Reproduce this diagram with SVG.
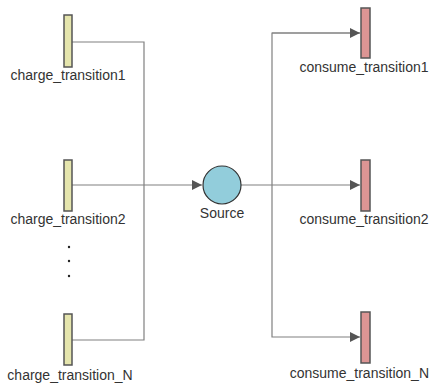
<svg xmlns="http://www.w3.org/2000/svg" width="433" height="383" viewBox="0 0 433 383">
<defs>
<style>
.ch{fill:#e5e5ad;stroke:#555;stroke-width:1.5}
.co{fill:#dc9594;stroke:#555;stroke-width:1.5}
.src{fill:#92cddb;stroke:#333;stroke-width:1.2}
.ln{fill:none;stroke:#808080;stroke-width:1.2}
text{font-family:"Liberation Sans",Arial,sans-serif;font-size:14px;fill:#333;text-anchor:middle}
</style>
<marker id="ah" viewBox="0 0 10 10" refX="10" refY="5" markerWidth="10" markerHeight="10" markerUnits="userSpaceOnUse" orient="auto">
<path d="M0,0 L10,5 L0,10 z" fill="#555"/>
</marker>
</defs>
<rect width="433" height="383" fill="#fff"/>
<g id="connectors">
<path class="ln" d="M72,42 H144 V340 H72"/>
<path class="ln" d="M72,185 H202" marker-end="url(#ah)"/>
<path class="ln" d="M241,185 H360" marker-end="url(#ah)"/>
<path class="ln" d="M360,33 H272 V337 H360" marker-end="url(#ah)"/>
<path class="ln" d="M272,33 H360" marker-end="url(#ah)"/>
</g>
<g id="charge_transition1">
<rect class="ch" x="64" y="15" width="8" height="52"/>
<text x="68" y="80">charge_transition1</text>
</g>
<g id="charge_transition2">
<rect class="ch" x="64" y="160" width="8" height="51"/>
<text x="68" y="224">charge_transition2</text>
</g>
<g id="ellipsis">
<circle cx="69" cy="247" r="1.2" fill="#222"/>
<circle cx="69" cy="261" r="1.2" fill="#222"/>
<circle cx="69" cy="276" r="1.2" fill="#222"/>
</g>
<g id="charge_transition_N">
<rect class="ch" x="64" y="314" width="8" height="51"/>
<text x="70" y="380">charge_transition_N</text>
</g>
<g id="source">
<circle class="src" cx="222" cy="185" r="19"/>
<text x="222" y="218">Source</text>
</g>
<g id="consume_transition1">
<rect class="co" x="361" y="8" width="9" height="50"/>
<text x="364" y="72">consume_transition1</text>
</g>
<g id="consume_transition2">
<rect class="co" x="361" y="160" width="9" height="51"/>
<text x="364" y="224">consume_transition2</text>
</g>
<g id="consume_transition_N">
<rect class="co" x="361" y="312" width="9" height="51"/>
<text x="429" y="378" style="text-anchor:end">consume_transition_N</text>
</g>
</svg>
